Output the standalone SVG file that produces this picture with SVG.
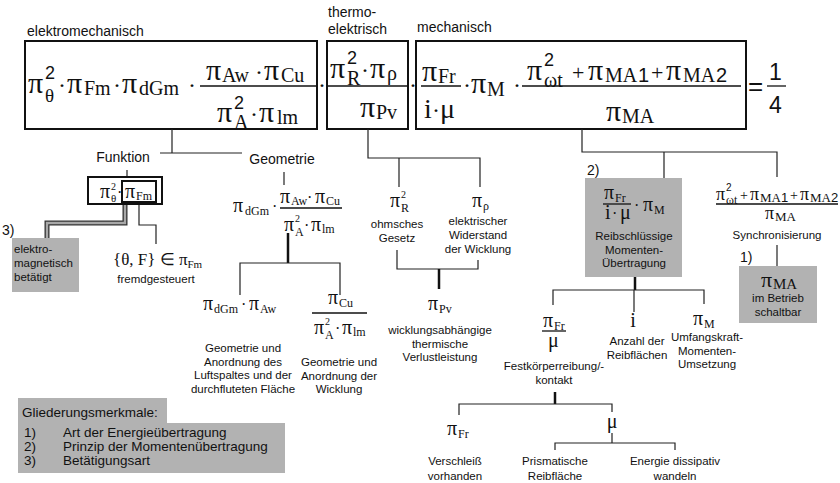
<svg xmlns="http://www.w3.org/2000/svg" width="840" height="483" viewBox="0 0 840 483">
<style>
.lbl{font-family:"Liberation Sans",Arial,sans-serif;font-size:14px;fill:#111}
.sm{font-family:"Liberation Sans",Arial,sans-serif;font-size:11.5px;fill:#111;text-anchor:middle}
.lg{font-family:"Liberation Sans",Arial,sans-serif;font-size:13.5px;fill:#111}
.m{font-family:"Liberation Serif","Times New Roman",serif;fill:#111}
.d{font-family:"Liberation Sans",Arial,sans-serif}
.box{fill:none;stroke:#111;stroke-width:2}
.ln{fill:none;stroke:#222;stroke-width:1.2}
.thk{fill:none;stroke:#111;stroke-width:2.5}
.bar{stroke:#111;stroke-width:1.3}
.grey{fill:#b2b2b2}
</style>

<!-- top equation: three bracketed groups -->
<g id="elektromechanisch">
  <text class="lbl" x="27" y="36">elektromechanisch</text>
  <rect class="box" x="25" y="41" width="292" height="88"/>
  <line class="bar" x1="200" y1="86" x2="316" y2="86"/>
  <text class="m">
    <tspan x="28" y="93" font-size="30">π</tspan>
    <tspan class="d" x="45" y="79" font-size="18">2</tspan>
    <tspan x="45" y="102" font-size="19">θ</tspan>
    <tspan x="58" y="93" font-size="24">·</tspan>
    <tspan x="67" y="93" font-size="30">π</tspan>
    <tspan x="84" y="95" font-size="20">Fm</tspan>
    <tspan x="113" y="93" font-size="24">·</tspan>
    <tspan x="122" y="93" font-size="30">π</tspan>
    <tspan x="139" y="95" font-size="20">dGm</tspan>
    <tspan x="188" y="93" font-size="24">·</tspan>
    <tspan x="206" y="80" font-size="30">π</tspan>
    <tspan x="222" y="82" font-size="20">Aw</tspan>
    <tspan x="255" y="80" font-size="24">·</tspan>
    <tspan x="264" y="80" font-size="30">π</tspan>
    <tspan x="281" y="82" font-size="20">Cu</tspan>
    <tspan x="217" y="122" font-size="30">π</tspan>
    <tspan class="d" x="234" y="109" font-size="18">2</tspan>
    <tspan x="234" y="129" font-size="20">A</tspan>
    <tspan x="250" y="122" font-size="24">·</tspan>
    <tspan x="259" y="122" font-size="30">π</tspan>
    <tspan x="277" y="124" font-size="20">lm</tspan>
  </text>
  <text class="m" x="318" y="93" font-size="24">·</text>
</g>

<g id="thermoelektrisch">
  <text class="lbl" x="328" y="17">thermo-</text>
  <text class="lbl" x="328" y="34">elektrisch</text>
  <rect class="box" x="327" y="41" width="81" height="88"/>
  <line class="bar" x1="327" y1="86" x2="408" y2="86"/>
  <text class="m">
    <tspan x="330" y="78" font-size="30">π</tspan>
    <tspan class="d" x="347" y="64" font-size="18">2</tspan>
    <tspan x="347" y="85" font-size="20">R</tspan>
    <tspan x="361" y="78" font-size="24">·</tspan>
    <tspan x="370" y="78" font-size="30">π</tspan>
    <tspan x="387" y="80" font-size="20">ρ</tspan>
    <tspan x="360" y="117" font-size="30">π</tspan>
    <tspan x="376" y="119" font-size="20">Pv</tspan>
  </text>
  <text class="m" x="409" y="93" font-size="24">·</text>
</g>

<g id="mechanisch">
  <text class="lbl" x="417" y="32">mechanisch</text>
  <rect class="box" x="416" y="41" width="330" height="88"/>
  <line class="bar" x1="421" y1="86" x2="461" y2="86"/>
  <line class="bar" x1="522" y1="86" x2="741" y2="86"/>
  <text class="m">
    <tspan x="422" y="81" font-size="30">π</tspan>
    <tspan x="438" y="83" font-size="20">Fr</tspan>
    <tspan x="424" y="118" font-size="28">i</tspan>
    <tspan x="432" y="118" font-size="24">·</tspan>
    <tspan x="440" y="118" font-size="28">μ</tspan>
    <tspan x="463" y="93" font-size="24">·</tspan>
    <tspan x="471" y="93" font-size="30">π</tspan>
    <tspan x="487" y="96" font-size="20">M</tspan>
    <tspan x="513" y="93" font-size="24">·</tspan>
    <tspan x="527" y="80" font-size="30">π</tspan>
    <tspan class="d" x="544" y="66" font-size="18">2</tspan>
    <tspan x="544" y="87" font-size="20">ωt</tspan>
    <tspan x="572" y="80" font-size="22">+</tspan>
    <tspan x="588" y="80" font-size="30">π</tspan>
    <tspan x="605" y="82" font-size="20">MA</tspan>
    <tspan class="d" x="638" y="82" font-size="20">1</tspan>
    <tspan x="651" y="80" font-size="22">+</tspan>
    <tspan x="666" y="80" font-size="30">π</tspan>
    <tspan x="683" y="82" font-size="20">MA</tspan>
    <tspan class="d" x="716" y="82" font-size="20">2</tspan>
    <tspan x="606" y="121" font-size="30">π</tspan>
    <tspan x="622" y="123" font-size="20">MA</tspan>
  </text>
</g>

<g id="result">
  <text class="d" x="748" y="95" font-size="26" fill="#111">=</text>
  <line class="bar" x1="767" y1="86" x2="786" y2="86"/>
  <text class="d" x="769" y="80" font-size="23" fill="#111">1</text>
  <text class="d" x="769" y="113" font-size="23" fill="#111">4</text>
</g>

<!-- connectors of the tree -->
<g id="connectors">
  <path class="ln" d="M172,129 V153 M160,153 H242"/>
  <path class="ln" d="M127,170 V177"/>
  <path class="ln" d="M139,202 V225 H156 V244"/>
  <path d="M125,202 V223 H47 V238" fill="none" stroke="#333" stroke-width="5" stroke-linejoin="miter"/>
  <path d="M125,202 V223 H47 V238" fill="none" stroke="#a8a8a8" stroke-width="2.4" stroke-linejoin="miter"/>
  <path class="ln" d="M284,172 V185"/>
  <path class="thk" d="M288,233 V263"/>
  <path class="ln" d="M240,295 V263 H340 V295"/>
  <path class="ln" d="M368,129 V158 H480 V187 M399,158 V187"/>
  <path class="ln" d="M397,250 V269 H478 V260"/>
  <path class="thk" d="M439,269 V289"/>
  <path class="ln" d="M582,129 V152 H777 V177 M664,152 V178"/>
  <path class="ln" d="M777,245 V266"/>
  <path class="thk" d="M635,277 V290"/>
  <path class="ln" d="M553,305 V290 H704 V304 M634,290 V312"/>
  <path class="thk" d="M555,392 V404"/>
  <path class="ln" d="M459,415 V404 H612 V412"/>
  <path class="ln" d="M612,433 V443 M555,450 V443 H675 V450"/>
</g>

<g id="funktion">
  <text class="lbl" x="123" y="162" text-anchor="middle">Funktion</text>
  <rect class="box" x="88" y="177" width="74" height="27"/>
  <rect class="box" x="122" y="181" width="34" height="21"/>
  <text class="m">
    <tspan x="100" y="198" font-size="20">π</tspan>
    <tspan x="111" y="190" font-size="10">2</tspan>
    <tspan x="111" y="202" font-size="11">θ</tspan>
    <tspan x="117" y="198" font-size="16">·</tspan>
    <tspan x="125" y="198" font-size="20">π</tspan>
    <tspan x="136" y="200" font-size="12">Fm</tspan>
  </text>
</g>

<g id="betaetigt">
  <text class="lbl" x="2" y="235">3)</text>
  <rect class="grey" x="12" y="238" width="67" height="54"/>
  <text class="sm" style="text-anchor:start" x="14" y="253">elektro-<tspan x="14" dy="14">magnetisch</tspan><tspan x="14" dy="14">betätigt</tspan></text>
</g>

<g id="fremdgesteuert">
  <text class="m" x="113" y="265" font-size="17">{θ, F} ∈ π<tspan font-size="11" dy="3">Fm</tspan></text>
  <text class="sm" x="156" y="283">fremdgesteuert</text>
</g>

<g id="geometrie">
  <text class="lbl" x="282" y="164" text-anchor="middle">Geometrie</text>
  <line class="bar" x1="280" y1="208" x2="342" y2="208"/>
  <text class="m">
    <tspan x="233" y="212" font-size="20">π</tspan>
    <tspan x="245" y="215" font-size="12">dGm</tspan>
    <tspan x="272" y="212" font-size="16">·</tspan>
    <tspan x="280" y="203" font-size="20">π</tspan>
    <tspan x="291" y="205" font-size="12">Aw</tspan>
    <tspan x="307" y="203" font-size="16">·</tspan>
    <tspan x="315" y="203" font-size="20">π</tspan>
    <tspan x="326" y="205" font-size="12">Cu</tspan>
    <tspan x="284" y="231" font-size="20">π</tspan>
    <tspan x="295" y="222" font-size="10">2</tspan>
    <tspan x="295" y="236" font-size="12">A</tspan>
    <tspan x="304" y="231" font-size="16">·</tspan>
    <tspan x="311" y="231" font-size="20">π</tspan>
    <tspan x="322" y="233" font-size="12">lm</tspan>
  </text>
</g>

<g id="luftspalt">
  <text class="m">
    <tspan x="203" y="310" font-size="20">π</tspan>
    <tspan x="214" y="313" font-size="12">dGm</tspan>
    <tspan x="241" y="310" font-size="16">·</tspan>
    <tspan x="249" y="310" font-size="20">π</tspan>
    <tspan x="260" y="313" font-size="12">Aw</tspan>
  </text>
  <text class="sm" x="243" y="352">Geometrie und<tspan x="243" dy="13.7">Anordnung des</tspan><tspan x="243" dy="13.7">Luftspaltes und der</tspan><tspan x="243" dy="13.7">durchfluteten Fläche</tspan></text>
</g>

<g id="wicklung">
  <line class="bar" x1="312" y1="313" x2="367" y2="313"/>
  <text class="m">
    <tspan x="328" y="304" font-size="20">π</tspan>
    <tspan x="339" y="307" font-size="12">Cu</tspan>
    <tspan x="314" y="334" font-size="20">π</tspan>
    <tspan x="325" y="325" font-size="10">2</tspan>
    <tspan x="325" y="339" font-size="12">A</tspan>
    <tspan x="335" y="334" font-size="16">·</tspan>
    <tspan x="342" y="334" font-size="20">π</tspan>
    <tspan x="353" y="336" font-size="12">lm</tspan>
  </text>
  <text class="sm" x="339" y="366">Geometrie und<tspan x="339" dy="13.7">Anordnung der</tspan><tspan x="339" dy="13.7">Wicklung</tspan></text>
</g>

<g id="ohmsch">
  <text class="m">
    <tspan x="390" y="207" font-size="20">π</tspan>
    <tspan x="401" y="198" font-size="10">2</tspan>
    <tspan x="401" y="212" font-size="12">R</tspan>
  </text>
  <text class="sm" x="397" y="228">ohmsches<tspan x="397" dy="14">Gesetz</tspan></text>
</g>

<g id="widerstand">
  <text class="m">
    <tspan x="472" y="207" font-size="20">π</tspan>
    <tspan x="483" y="210" font-size="12">ρ</tspan>
  </text>
  <text class="sm" x="478" y="225">elektrischer<tspan x="478" dy="14">Widerstand</tspan><tspan x="478" dy="14">der Wicklung</tspan></text>
</g>

<g id="verlustleistung">
  <text class="m">
    <tspan x="428" y="310" font-size="20">π</tspan>
    <tspan x="439" y="313" font-size="12">Pv</tspan>
  </text>
  <text class="sm" x="440" y="334">wicklungsabhängige<tspan x="440" dy="13.5">thermische</tspan><tspan x="440" dy="13.5">Verlustleistung</tspan></text>
</g>

<g id="reibschluss">
  <text class="lbl" x="587" y="175">2)</text>
  <rect class="grey" x="585" y="178" width="97" height="99"/>
  <line class="bar" x1="603" y1="204" x2="631" y2="204"/>
  <text class="m">
    <tspan x="604" y="199" font-size="20">π</tspan>
    <tspan x="615" y="202" font-size="12">Fr</tspan>
    <tspan x="605" y="219" font-size="20">i</tspan>
    <tspan x="612" y="219" font-size="16">·</tspan>
    <tspan x="620" y="219" font-size="20">μ</tspan>
    <tspan x="634" y="211" font-size="16">·</tspan>
    <tspan x="643" y="211" font-size="20">π</tspan>
    <tspan x="654" y="214" font-size="12">M</tspan>
  </text>
  <text class="sm" x="634" y="240" font-size="11">Reibschlüssige<tspan x="634" dy="13.5">Momenten-</tspan><tspan x="634" dy="13.5">Übertragung</tspan></text>
</g>

<g id="synchronisierung">
  <line class="bar" x1="716" y1="204" x2="838" y2="204"/>
  <text class="m">
    <tspan x="716" y="200" font-size="18">π</tspan>
    <tspan class="d" x="726" y="191" font-size="10">2</tspan>
    <tspan x="726" y="204" font-size="12">ωt</tspan>
    <tspan x="740" y="200" font-size="14">+</tspan>
    <tspan x="750" y="200" font-size="18">π</tspan>
    <tspan x="760" y="202" font-size="13">MA</tspan>
    <tspan class="d" x="781" y="202" font-size="13">1</tspan>
    <tspan x="790" y="200" font-size="14">+</tspan>
    <tspan x="800" y="200" font-size="18">π</tspan>
    <tspan x="810" y="202" font-size="13">MA</tspan>
    <tspan class="d" x="831" y="202" font-size="13">2</tspan>
    <tspan x="765" y="219" font-size="18">π</tspan>
    <tspan x="775" y="221" font-size="13">MA</tspan>
  </text>
  <text class="sm" x="777" y="239">Synchronisierung</text>
</g>

<g id="schaltbar">
  <text class="lbl" x="740" y="262">1)</text>
  <rect class="grey" x="739" y="266" width="78" height="57"/>
  <text class="m">
    <tspan x="761" y="287" font-size="22">π</tspan>
    <tspan x="773" y="289" font-size="15">MA</tspan>
  </text>
  <text class="sm" x="778" y="302">im Betrieb<tspan x="778" dy="14">schaltbar</tspan></text>
</g>

<g id="festkoerper">
  <line class="bar" x1="542" y1="331" x2="566" y2="331"/>
  <text class="m">
    <tspan x="543" y="327" font-size="20">π</tspan>
    <tspan x="554" y="330" font-size="12">Fr</tspan>
    <tspan x="548" y="347" font-size="20">μ</tspan>
  </text>
  <text class="sm" x="554" y="370">Festkörperreibung/-<tspan x="554" dy="13.5">kontakt</tspan></text>
</g>

<g id="reibflaechen">
  <text class="m" x="633" y="327" font-size="20" text-anchor="middle">i</text>
  <text class="sm" x="637" y="345">Anzahl der<tspan x="637" dy="13.5">Reibflächen</tspan></text>
</g>

<g id="umfangskraft">
  <text class="m">
    <tspan x="693" y="325" font-size="20">π</tspan>
    <tspan x="704" y="328" font-size="12">M</tspan>
  </text>
  <text class="sm" x="707" y="341">Umfangskraft-<tspan x="707" dy="13.5">Momenten-</tspan><tspan x="707" dy="13.5">Umsetzung</tspan></text>
</g>

<g id="verschleiss">
  <text class="m">
    <tspan x="447" y="435" font-size="20">π</tspan>
    <tspan x="458" y="438" font-size="12">Fr</tspan>
  </text>
  <text class="sm" x="455" y="465">Verschleiß<tspan x="455" dy="15">vorhanden</tspan></text>
</g>

<g id="reibwert">
  <text class="m" x="612" y="428" font-size="20" text-anchor="middle">μ</text>
</g>

<g id="prismatisch">
  <text class="sm" x="555" y="465">Prismatische<tspan x="555" dy="15">Reibfläche</tspan></text>
</g>

<g id="dissipativ">
  <text class="sm" x="675" y="465">Energie dissipativ<tspan x="675" dy="15">wandeln</tspan></text>
</g>

<!-- legend -->
<g id="legende">
  <rect class="grey" x="18" y="398" width="149" height="26"/>
  <rect class="grey" x="18" y="423" width="267" height="50"/>
  <text class="lg" x="22" y="417">Gliederungsmerkmale:</text>
  <text class="lg" x="24" y="437">1)<tspan x="63">Art der Energieübertragung</tspan></text>
  <text class="lg" x="24" y="451">2)<tspan x="63">Prinzip der Momentenübertragung</tspan></text>
  <text class="lg" x="24" y="465">3)<tspan x="63">Betätigungsart</tspan></text>
</g>
</svg>
